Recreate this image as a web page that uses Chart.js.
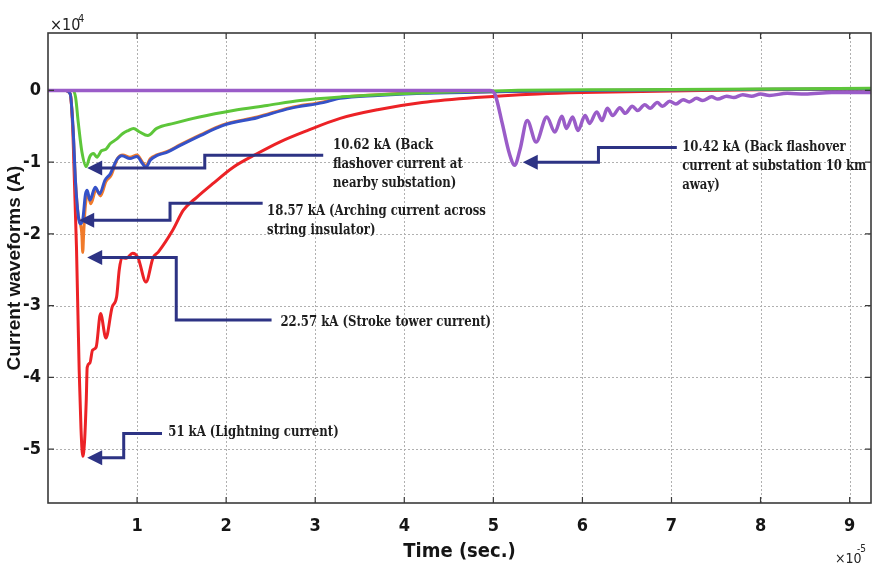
<!DOCTYPE html>
<html>
<head>
<meta charset="utf-8">
<script src="https://cdn.jsdelivr.net/npm/chart.js@4.4.1/dist/chart.umd.min.js"></script>
<style>
  html, body { margin: 0; padding: 0; background: #ffffff; }
  #wrap { width: 874px; height: 566px; }
</style>
</head>
<body>
<div id="wrap"><canvas id="c" width="874" height="566"></canvas></div>
<script>
// Time is in units of 1e-5 s, current in units of 1e4 A.
const xTicks = [1, 2, 3, 4, 5, 6, 7, 8, 9];
const yTicks = [-5, -4, -3, -2, -1, 0];

// Lightning current (51 kA peak)
const lightningT = [0, 0.2, 0.25, 0.28, 0.32, 0.35, 0.37, 0.39, 0.41, 0.43, 0.44, 0.47, 0.5, 0.54, 0.59, 0.65, 0.72, 0.77, 0.8, 0.83, 0.88, 0.95, 1.01, 1.1, 1.18, 1.24, 1.4, 1.52, 1.67, 1.85, 2.08, 2.35, 2.6, 2.91, 3.28, 3.7, 4.2, 4.8, 5.5, 6.0, 7.0, 8.0, 9.24];
const lightningI = [0, 0, -0.05, -0.6, -2.2, -3.9, -4.7, -5.1, -4.9, -4.3, -3.86, -3.8, -3.62, -3.58, -3.11, -3.45, -3.02, -2.88, -2.5, -2.33, -2.34, -2.27, -2.33, -2.67, -2.33, -2.25, -1.95, -1.67, -1.49, -1.3, -1.07, -0.88, -0.72, -0.56, -0.39, -0.27, -0.17, -0.1, -0.05, -0.03, -0.01, 0.01, 0.02];

// Stroke tower current (22.57 kA peak)
const towerT = [0, 0.2, 0.25, 0.28, 0.31, 0.34, 0.36, 0.38, 0.39, 0.4, 0.42, 0.45, 0.48, 0.54, 0.59, 0.65, 0.71, 0.78, 0.84, 0.92, 1.0, 1.06, 1.1, 1.15, 1.22, 1.34, 1.48, 1.71, 1.96, 2.35, 2.72, 3.09, 3.28, 3.7, 4.2, 5.0, 6.0, 9.24];
const towerI = [0, 0, -0.05, -0.5, -1.3, -1.75, -1.84, -2.0, -2.257, -2.0, -1.6, -1.45, -1.58, -1.38, -1.47, -1.27, -1.18, -0.95, -0.9, -0.93, -0.9, -1.0, -1.05, -0.95, -0.9, -0.85, -0.76, -0.62, -0.48, -0.37, -0.24, -0.16, -0.1, -0.06, -0.03, -0.02, 0, 0.02];

// Arching current across string insulator (18.57 kA peak)
const archT = [0, 0.2, 0.25, 0.28, 0.31, 0.34, 0.36, 0.39, 0.42, 0.44, 0.47, 0.53, 0.58, 0.64, 0.7, 0.77, 0.83, 0.92, 1.0, 1.06, 1.1, 1.15, 1.22, 1.34, 1.48, 1.71, 1.96, 2.35, 2.72, 3.09, 3.28, 3.7, 4.2, 5.0, 6.0, 9.24];
const archI = [0, 0, -0.05, -0.5, -1.3, -1.75, -1.857, -1.8, -1.45, -1.39, -1.53, -1.35, -1.44, -1.25, -1.16, -0.97, -0.91, -0.95, -0.92, -1.02, -1.07, -0.97, -0.91, -0.86, -0.77, -0.63, -0.49, -0.38, -0.25, -0.17, -0.11, -0.07, -0.04, -0.02, 0, 0.02];

// Back flashover current at nearby substation (10.62 kA peak)
const nearbyT = [0, 0.28, 0.31, 0.34, 0.38, 0.43, 0.47, 0.51, 0.55, 0.6, 0.65, 0.7, 0.77, 0.84, 0.9, 0.96, 1.03, 1.12, 1.22, 1.41, 1.7, 2.08, 2.46, 2.83, 3.3, 3.9, 4.6, 5.2, 6.5, 9.24];
const nearbyI = [0, 0, -0.1, -0.45, -0.85, -1.062, -0.92, -0.88, -0.93, -0.84, -0.82, -0.74, -0.68, -0.6, -0.56, -0.53, -0.58, -0.63, -0.53, -0.46, -0.37, -0.28, -0.21, -0.14, -0.09, -0.05, -0.02, 0, 0.01, 0.03];

// Back flashover current at substation 10 km away (10.42 kA peak)
const remoteT = [0, 4.96, 5.02, 5.1, 5.18, 5.24, 5.3, 5.38, 5.48, 5.6, 5.69, 5.77, 5.82, 5.89, 5.95, 6.03, 6.08, 6.16, 6.22, 6.28, 6.34, 6.42, 6.48, 6.56, 6.62, 6.7, 6.76, 6.84, 6.9, 6.98, 7.05, 7.13, 7.2, 7.28, 7.35, 7.45, 7.52, 7.62, 7.7, 7.8, 7.9, 8.0, 8.1, 8.3, 8.5, 8.8, 9.24];
const remoteI = [0, 0, -0.06, -0.46, -0.88, -1.042, -0.82, -0.42, -0.72, -0.37, -0.58, -0.36, -0.53, -0.37, -0.56, -0.35, -0.46, -0.3, -0.42, -0.25, -0.35, -0.24, -0.32, -0.22, -0.28, -0.2, -0.25, -0.17, -0.22, -0.15, -0.19, -0.13, -0.16, -0.11, -0.14, -0.09, -0.12, -0.08, -0.1, -0.06, -0.08, -0.05, -0.07, -0.04, -0.05, -0.03, -0.03];

// Callout arrows (data units): tip, elbow and end of the leader, then text anchor
const callouts = [
  { tip: [0.44, -1.08], elbowX: 1.76, elbowY: -0.905, endX: 3.09, textX: 3.2, textY: -0.766,
    lines: ['10.62 kA (Back', 'flashover current at', 'nearby substation)'] },
  { tip: [0.35, -1.81], elbowX: 1.37, elbowY: -1.574, endX: 2.41, textX: 2.46, textY: -1.685,
    lines: ['18.57 kA (Arching current across', 'string insulator)'] },
  { tip: [0.44, -2.33], elbowX: 1.44, elbowY: -3.2, endX: 2.51, textX: 2.61, textY: -3.23,
    lines: ['22.57 kA (Stroke tower current)'] },
  { tip: [0.44, -5.12], elbowX: 0.85, elbowY: -4.78, endX: 1.28, textX: 1.35, textY: -4.76,
    lines: ['51 kA (Lightning current)'] },
  { tip: [5.33, -1.0], elbowX: 6.18, elbowY: -0.794, endX: 7.06, textX: 7.12, textY: -0.794,
    lines: ['10.42 kA (Back flashover', 'current at substation 10 km', 'away)'] }
];

const pts = (t, v) => t.map((x, i) => ({ x: x, y: v[i] }));
const axisFont = "'Liberation Sans Narrow', 'DejaVu Sans Condensed', 'Liberation Sans', sans-serif";

function series(data, color, width) {
  return {
    data: data,
    borderColor: color,
    backgroundColor: color,
    borderWidth: width,
    pointRadius: 0,
    fill: false,
    cubicInterpolationMode: 'monotone',
    borderCapStyle: 'round',
    borderJoinStyle: 'round'
  };
}

// dotted grid behind the curves
const gridPlugin = {
  id: 'matlabGrid',
  beforeDatasetsDraw(chart) {
    const { ctx, chartArea: a, scales: { x, y } } = chart;
    ctx.save();
    ctx.strokeStyle = '#b0b0b0';
    ctx.lineWidth = 1;
    ctx.setLineDash([2, 2]);
    xTicks.forEach(v => {
      const px = Math.round(x.getPixelForValue(v)) + 0.5;
      ctx.beginPath(); ctx.moveTo(px, a.top); ctx.lineTo(px, a.bottom); ctx.stroke();
    });
    yTicks.forEach(v => {
      const py = Math.round(y.getPixelForValue(v)) + 0.5;
      ctx.beginPath(); ctx.moveTo(a.left, py); ctx.lineTo(a.right, py); ctx.stroke();
    });
    ctx.restore();
  }
};

// axes box with inward ticks, exponent labels and callouts
const framePlugin = {
  id: 'matlabFrame',
  afterDatasetsDraw(chart) {
    const { ctx, chartArea: a, scales: { x, y } } = chart;
    ctx.save();
    ctx.strokeStyle = '#3a3a3a';
    ctx.lineWidth = 1.6;
    ctx.setLineDash([]);
    ctx.strokeRect(a.left, a.top, a.right - a.left, a.bottom - a.top);
    ctx.lineWidth = 1.2;
    const tl = 6;
    xTicks.forEach(v => {
      const px = x.getPixelForValue(v);
      ctx.beginPath();
      ctx.moveTo(px, a.bottom); ctx.lineTo(px, a.bottom - tl);
      ctx.moveTo(px, a.top); ctx.lineTo(px, a.top + tl);
      ctx.stroke();
    });
    yTicks.forEach(v => {
      const py = y.getPixelForValue(v);
      ctx.beginPath();
      ctx.moveTo(a.left, py); ctx.lineTo(a.left + tl, py);
      ctx.moveTo(a.right, py); ctx.lineTo(a.right - tl, py);
      ctx.stroke();
    });

    // exponent labels
    ctx.fillStyle = '#222';
    ctx.textBaseline = 'alphabetic';
    ctx.textAlign = 'left';
    ctx.font = "16px " + axisFont;
    ctx.fillText('\u00d710', a.left + 2, 30);
    ctx.font = "11px " + axisFont;
    ctx.fillText('4', a.left + 30, 22);
    ctx.font = "14px " + axisFont;
    ctx.fillText('\u00d710', 835, 563);
    ctx.font = "10px " + axisFont;
    ctx.fillText('-5', 857, 552);

    // callouts
    const navy = '#2d3384';
    callouts.forEach(c => {
      const tx = x.getPixelForValue(c.tip[0]);
      const ty = y.getPixelForValue(c.tip[1]);
      const ex = x.getPixelForValue(c.elbowX);
      const ey = y.getPixelForValue(c.elbowY);
      const endX = x.getPixelForValue(c.endX);
      ctx.strokeStyle = navy;
      ctx.fillStyle = navy;
      ctx.lineWidth = 3;
      ctx.lineJoin = 'miter';
      ctx.beginPath();
      ctx.moveTo(tx + 10, ty);
      ctx.lineTo(ex, ty);
      ctx.lineTo(ex, ey);
      ctx.lineTo(endX, ey);
      ctx.stroke();
      ctx.beginPath();
      ctx.moveTo(tx, ty);
      ctx.lineTo(tx + 15, ty - 7.5);
      ctx.lineTo(tx + 15, ty + 7.5);
      ctx.closePath();
      ctx.fill();

      const lx = x.getPixelForValue(c.textX);
      const ly = y.getPixelForValue(c.textY);
      ctx.fillStyle = '#1e1e1e';
      ctx.font = "bold 13px 'DejaVu Serif Condensed', 'DejaVu Serif', serif";
      ctx.textAlign = 'left';
      ctx.textBaseline = 'middle';
      c.lines.forEach((s, i) => {
        ctx.save();
        ctx.translate(lx, ly + i * 19);
        ctx.scale(1, 1.2);
        ctx.fillText(s, 0, 0);
        ctx.restore();
      });
    });
    ctx.restore();
  }
};

new Chart(document.getElementById('c'), {
  type: 'line',
  data: {
    datasets: [
      series(pts(remoteT, remoteI), '#9a5cc8', 3.5),
      series(pts(nearbyT, nearbyI), '#5dc63a', 3),
      series(pts(archT, archI), '#3552c8', 3),
      series(pts(towerT, towerI), '#f07a2a', 3),
      series(pts(lightningT, lightningI), '#ec2226', 3)
    ]
  },
  options: {
    responsive: false,
    animation: false,
    devicePixelRatio: 1,
    layout: { padding: { top: 33, right: 3, left: 0, bottom: 0 } },
    plugins: { legend: { display: false }, tooltip: { enabled: false } },
    scales: {
      x: {
        type: 'linear',
        min: 0,
        max: 9.24,
        afterBuildTicks: s => { s.ticks = xTicks.map(v => ({ value: v })); },
        afterFit: s => { s.height = 63; },
        grid: { display: false, drawTicks: false },
        border: { display: false },
        ticks: {
          color: '#151515',
          font: { family: axisFont, size: 18, weight: 'bold' },
          padding: 13,
          maxRotation: 0,
          autoSkip: false,
          callback: v => String(v)
        },
        title: {
          display: true,
          text: 'Time (sec.)',
          color: '#151515',
          font: { family: axisFont, size: 20, weight: 'bold' },
          padding: { top: 0, bottom: 2 }
        }
      },
      y: {
        type: 'linear',
        min: -5.75,
        max: 0.8,
        afterBuildTicks: s => { s.ticks = yTicks.map(v => ({ value: v })); },
        afterFit: s => { s.width = 48; },
        grid: { display: false, drawTicks: false },
        border: { display: false },
        ticks: {
          color: '#151515',
          font: { family: axisFont, size: 18, weight: 'bold' },
          padding: 7,
          autoSkip: false,
          callback: v => String(v)
        },
        title: {
          display: true,
          text: 'Current waveforms (A)',
          color: '#151515',
          font: { family: "'Liberation Sans', Arial, sans-serif", size: 19, weight: 'bold' },
          padding: { top: 3, bottom: 0 }
        }
      }
    }
  },
  plugins: [gridPlugin, framePlugin]
});
</script>
</body>
</html>
